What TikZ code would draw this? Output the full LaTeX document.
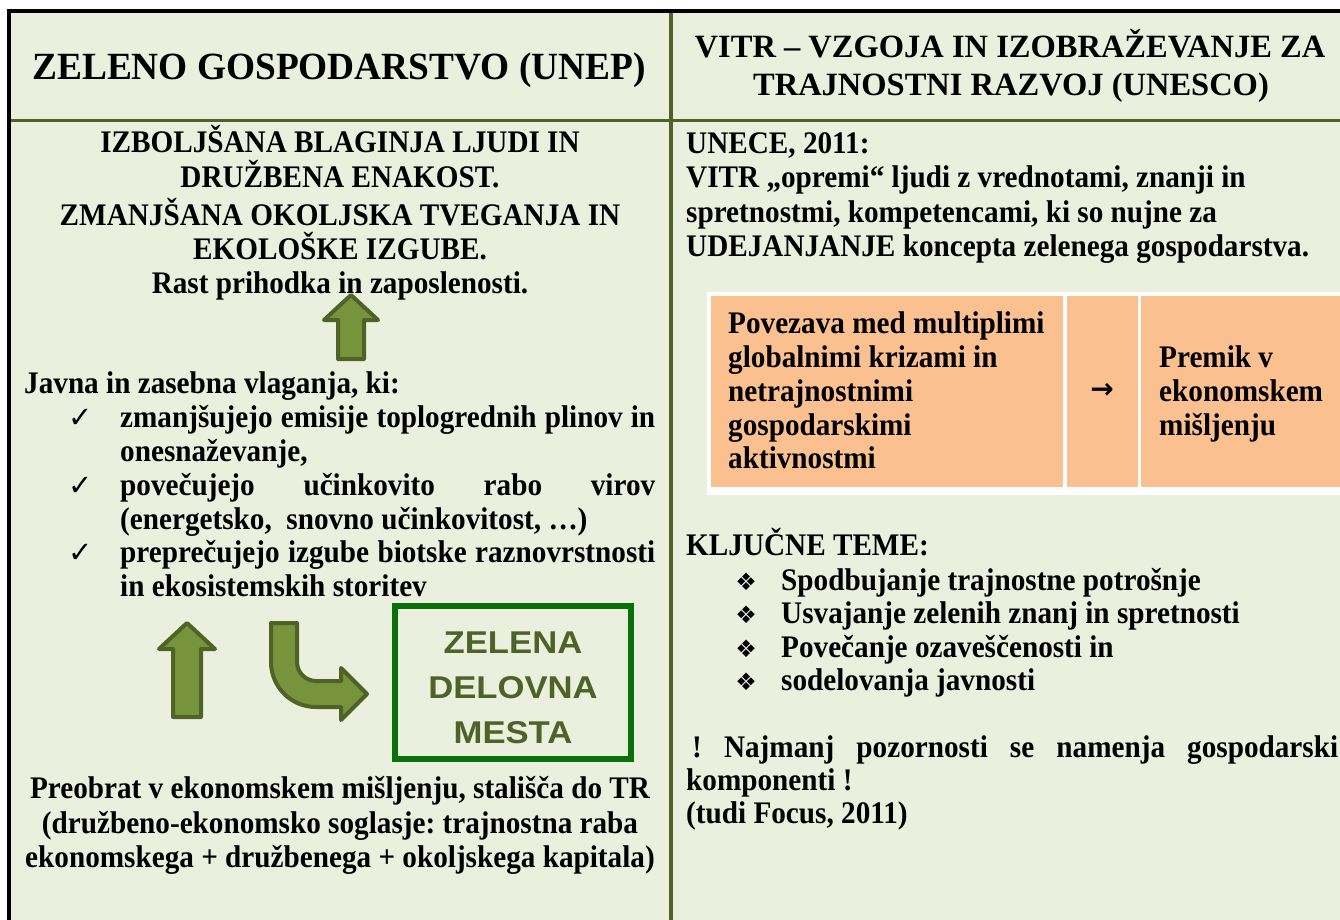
\documentclass[tikz,border=0pt]{standalone}
\usepackage{fontspec}
\setmainfont{Liberation Serif}[FakeStretch=0.93]
\newfontfamily\hdrfont{Liberation Serif}
\newfontfamily\hdrLfont{Liberation Serif}[FakeStretch=0.97]
\newfontfamily\zelfont{Liberation Sans}[FakeStretch=1.1]
\newfontfamily\symfont{DejaVu Sans}
\definecolor{bgc}{HTML}{EBEFDE}
\definecolor{olive}{HTML}{4F6228}
\definecolor{arrfill}{HTML}{77933C}
\definecolor{boxgreen}{HTML}{0A700A}
\definecolor{orangec}{HTML}{FAC090}
\begin{document}
\begin{tikzpicture}[x=1pt,y=-1pt,
  body/.style={inner sep=0pt, anchor=base west, font=\frenchspacing\bfseries\fontsize{31.4}{34}\selectfont},
  bodyc/.style={body, anchor=base},
  hdrL/.style={inner sep=0pt, anchor=base, font=\hdrLfont\bfseries\fontsize{38.5}{42}\selectfont},
  hdrR/.style={inner sep=0pt, anchor=base, font=\hdrfont\bfseries\fontsize{32.5}{36}\selectfont},
  chk/.style={inner sep=0pt, anchor=base, font=\symfont\fontsize{29}{30}\selectfont},
  dia/.style={inner sep=0pt, anchor=base, font=\symfont\fontsize{24}{26}\selectfont},
  zel/.style={inner sep=0pt, anchor=base, text=olive, font=\zelfont\bfseries\fontsize{31.5}{34}\selectfont},
  blockarrow/.style={fill=arrfill, draw=olive, line width=4pt, line join=round},
  divider/.style={draw=olive, line width=3.5pt},
  frameline/.style={draw=black, line width=3.5pt}
]
\useasboundingbox (0,0) rectangle (1340,920);
\fill[white] (0,0) rectangle (1340,920);
\fill[bgc] (9,11) rectangle (1340,920);
% frame and dividers
\draw[divider] (671,11) -- (671,920);
\draw[divider, line width=3pt] (9,121) -- (1340,121);
\draw[frameline] (7.5,11) -- (1340,11);
\draw[frameline] (9,9.5) -- (9,920);

% headers
\node[hdrL] (hL) at (339,80) {ZELENO GOSPODARSTVO (UNEP)};
\node[hdrR] (hR1) at (1010,58) {VITR – VZGOJA IN IZOBRAŽEVANJE ZA};
\node[hdrR] (hR2) at (1011,96) {TRAJNOSTNI RAZVOJ (UNESCO)};

% left column top
\node[bodyc] (l1) at (340,152.5) {IZBOLJŠANA BLAGINJA LJUDI IN};
\node[bodyc] (l2) at (340,187.5) {DRUŽBENA ENAKOST.};
\node[bodyc] (l3) at (340,225.5) {ZMANJŠANA OKOLJSKA TVEGANJA IN};
\node[bodyc] (l4) at (340,259.5) {EKOLOŠKE IZGUBE.};
\node[bodyc] (l5) at (340,293.5) {Rast prihodka in zaposlenosti.};

% up arrow 1
\draw[blockarrow] (338,359) -- (338,320) -- (324,320) -- (351,295) -- (378,320) -- (364,320) -- (364,359) -- cycle;

\node[body] (jv) at (24,393) {Javna in zasebna vlaganja, ki:};
\node[chk] (c1) at (81,427) {✓};
\node[chk] (c2) at (81,495) {✓};
\node[chk] (c3) at (81,562) {✓};
\node[body] (i1a) at (120,427) {\makebox[535pt][s]{zmanjšujejo emisije toplogrednih plinov in}};
\node[body] (i1b) at (120,461) {onesnaževanje,};
\node[body] (i2a) at (120,495) {\makebox[535pt][s]{povečujejo učinkovito rabo virov}};
\node[body] (i2b) at (120,529) {(energetsko,\ \ snovno učinkovitost, …)};
\node[body] (i3a) at (120,562) {\makebox[535pt][s]{preprečujejo izgube biotske raznovrstnosti}};
\node[body] (i3b) at (120,596) {in ekosistemskih storitev};

% up arrow 2
\draw[blockarrow] (173,717) -- (173,649) -- (159,649) -- (187,623) -- (215,649) -- (201,649) -- (201,717) -- cycle;

% bent arrow
\draw[blockarrow] (271,623) -- (297,623) -- (297,662)
  .. controls (297,672.5) and (305.5,681) .. (316,681)
  -- (341,681) -- (341,668) -- (367,694) -- (341,720) -- (341,707) -- (316,707)
  .. controls (291.1,707) and (271,686.9) .. (271,662) -- cycle;

% green box
\node[draw=boxgreen, line width=6pt, minimum width=236pt, minimum height=153pt, inner sep=0pt] (gb) at (513,682.5) {};
\node[zel] (z1) at (513,653) {ZELENA};
\node[zel] (z2) at (513,698) {DELOVNA};
\node[zel] (z3) at (513,743) {MESTA};

% left bottom text
\node[bodyc] (b1) at (340,798) {Preobrat v ekonomskem mišljenju, stališča do TR};
\node[bodyc] (b2) at (340,833) {(družbeno-ekonomsko soglasje: trajnostna raba};
\node[bodyc] (b3) at (340,867) {ekonomskega + družbenega + okoljskega kapitala)};

% right column
\node[body] (r1) at (686,154) {UNECE, 2011:};
\node[body] (r2) at (686,188) {VITR „opremi“ ljudi z vrednotami, znanji in};
\node[body] (r3) at (686,222) {spretnostmi, kompetencami, ki so nujne za};
\node[body] (r4) at (686,256) {UDEJANJANJE koncepta zelenega gospodarstva.};

% orange table
\fill[white] (707,292) rectangle (1340,495);
\fill[orangec] (710.5,296) rectangle (1063,487);
\fill[orangec] (1067,296) rectangle (1138,487);
\fill[orangec] (1141,296) rectangle (1340,487);
\node[body] (o1) at (728,333) {Povezava med multiplimi};
\node[body] (o2) at (728,367) {globalnimi krizami in};
\node[body] (o3) at (728,401) {netrajnostnimi};
\node[body] (o4) at (728,435) {gospodarskimi};
\node[body] (o5) at (728,468) {aktivnostmi};
\node[inner sep=0pt, font=\symfont\bfseries\fontsize{28}{30}\selectfont] (oa) at (1102,391) {→};
\node[body] (p1) at (1159,367) {Premik v};
\node[body] (p2) at (1159,401) {ekonomskem};
\node[body] (p3) at (1159,435) {mišljenju};

% key topics
\node[body] (kt) at (686,555) {KLJUČNE TEME:};
\node[dia] (d1) at (746,590) {❖};
\node[dia] (d2) at (746,623) {❖};
\node[dia] (d3) at (746,657) {❖};
\node[dia] (d4) at (746,690) {❖};
\node[body] (k1) at (781,590) {Spodbujanje trajnostne potrošnje};
\node[body] (k2) at (781,623) {Usvajanje zelenih znanj in spretnosti};
\node[body] (k3) at (781,657) {Povečanje ozaveščenosti in};
\node[body] (k4) at (781,690) {sodelovanja javnosti};

\node[body] (n1) at (692,757) {\makebox[646pt][s]{! Najmanj pozornosti se namenja gospodarski}};
\node[body] (n2) at (686,790) {komponenti !};
\node[body] (n3) at (686,823) {(tudi Focus, 2011)};
\end{tikzpicture}
\end{document}
